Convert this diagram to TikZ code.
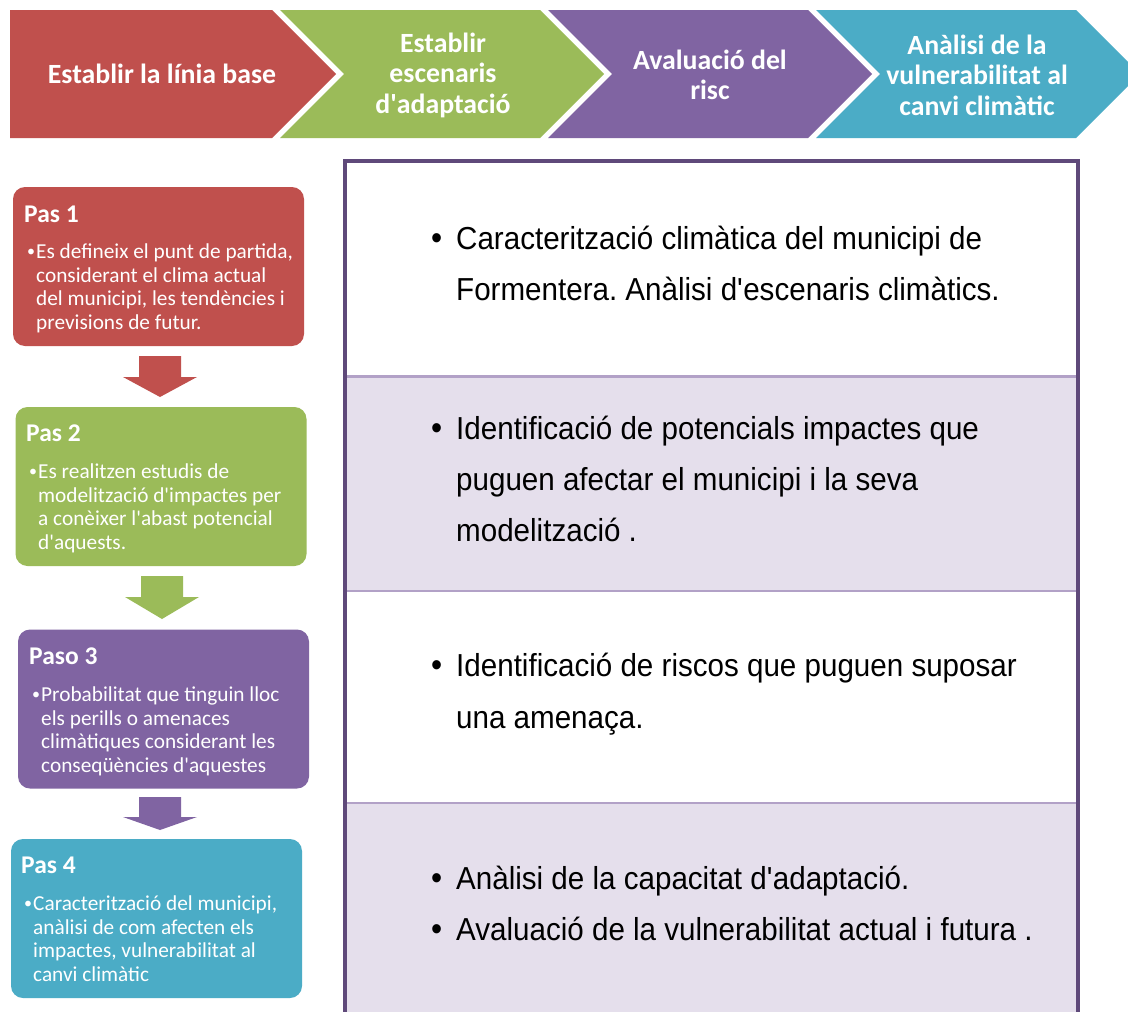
\documentclass[tikz,border=0pt]{standalone}
\usepackage{fontspec}
\setmainfont{Carlito}
\newfontfamily\tabfont[FakeStretch=0.93]{Liberation Sans}
\definecolor{cred}{HTML}{C0504D}
\definecolor{cgreen}{HTML}{9BBB59}
\definecolor{cpurple}{HTML}{8064A2}
\definecolor{cteal}{HTML}{4BACC6}
\definecolor{tborder}{HTML}{5F497A}
\definecolor{tdiv}{HTML}{B2A1C7}
\definecolor{tfill}{HTML}{E5DFEC}
\newcommand\blockarr[5]{\fill[#1] ({#2-21},#3) -- ({#2+21},#3) -- ({#2+21},#4) -- ({#2+37},#4) -- (#2,#5) -- ({#2-37},#4) -- ({#2-21},#4) -- cycle;}
\frenchspacing
\begin{document}
\begin{tikzpicture}[x=1pt,y=-1pt,
  boxstyle/.style={rounded corners=12pt, minimum width=291pt, minimum height=159pt, inner sep=0pt, draw=none},
  headtxt/.style={anchor=base west, inner sep=0pt, text=white, font=\bfseries\fontsize{25.5}{28}\selectfont},
  btxt/.style={anchor=base west, inner sep=0pt, text=white, font=\fontsize{21.3}{24}\selectfont},
  bdot/.style={anchor=base west, inner sep=0pt, text=white, font=\fontsize{16}{18}\selectfont},
  ctxt/.style={align=center, text=white, inner sep=0pt, font=\bfseries\fontsize{27.8}{30.5}\selectfont},
  ttxt/.style={anchor=base west, inner sep=0pt, font=\tabfont\fontsize{31.8}{34}\selectfont},
  tdot/.style={anchor=base west, inner sep=0pt, font=\tabfont\fontsize{34}{34}\selectfont},
]
\useasboundingbox (0,0) rectangle (1128,1012);
\clip (0,0) rectangle (1128,1012);
\fill[white] (0,0) rectangle (1128,1012);

% chevrons
\fill[cred] (10,10) -- (272,10) -- (336,74) -- (272,138) -- (10,138) -- cycle;
\fill[cgreen] (280,10) -- (540,10) -- (604,74) -- (540,138) -- (280,138) -- (344,74) -- cycle;
\fill[cpurple] (548,10) -- (808,10) -- (872,74) -- (808,138) -- (548,138) -- (612,74) -- cycle;
\fill[cteal] (816,10) -- (1076,10) -- (1140,74) -- (1076,138) -- (816,138) -- (880,74) -- cycle;
\node[ctxt] (c1) at (162,74) {Establir la línia base};
\node[ctxt] (c2) at (443,75) {Establir\\escenaris\\d\textquotesingle adaptació};
\node[ctxt] (c3) at (710,75) {Avaluació del\\risc};
\node[ctxt] (c4) at (977,75) {Anàlisi de la\\vulnerabilitat al\\canvi climàtic};

% left boxes
\node[boxstyle, fill=cred] (p1) at (158.5,266.5) {};
\node[boxstyle, fill=cgreen] (p2) at (161,486.5) {};
\node[boxstyle, fill=cpurple] (p3) at (163.5,709) {};
\node[boxstyle, fill=cteal] (p4) at (156.5,918.5) {};

\blockarr{cred}{160}{356}{377}{397}
\blockarr{cgreen}{162}{576}{597}{619}
\blockarr{cpurple}{160}{797}{817}{830}

\node[headtxt] (h1) at (24,222) {Pas 1};
\node[bdot] (b1) at (27,256) {•};
\node[btxt] (t11) at (36,258) {Es defineix el punt de partida,};
\node[btxt] (t12) at (36,282) {considerant el clima actual};
\node[btxt] (t13) at (36,305) {del municipi, les tendències i};
\node[btxt] (t14) at (36,329) {previsions de futur.};

\node[headtxt] (h2) at (26,441) {Pas 2};
\node[bdot] (b2) at (29,476) {•};
\node[btxt] (t21) at (38,478) {Es realitzen estudis de};
\node[btxt] (t22) at (38,502) {modelització d\textquotesingle impactes per};
\node[btxt] (t23) at (38,525) {a conèixer l\textquotesingle abast potencial};
\node[btxt] (t24) at (38,549) {d\textquotesingle aquests.};

\node[headtxt] (h3) at (29,664) {Paso 3};
\node[bdot] (b3) at (32,699) {•};
\node[btxt] (t31) at (41,701) {Probabilitat que tinguin lloc};
\node[btxt] (t32) at (41,725) {els perills o amenaces};
\node[btxt] (t33) at (41,748) {climàtiques considerant les};
\node[btxt] (t34) at (41,772) {conseqüències d\textquotesingle aquestes};

\node[headtxt] (h4) at (21,873) {Pas 4};
\node[bdot] (b4) at (24,908) {•};
\node[btxt] (t41) at (33,910) {Caracterització del municipi,};
\node[btxt] (t42) at (33,934) {anàlisi de com afecten els};
\node[btxt] (t43) at (33,957) {impactes, vulnerabilitat al};
\node[btxt] (t44) at (33,981) {canvi climàtic};

% table
\fill[tfill] (345,376) rectangle (1078,591);
\fill[tfill] (345,803) rectangle (1078,1030);
\draw[tdiv, line width=3pt] (345,376.5) -- (1078,376.5);
\draw[tdiv, line width=1.2pt] (345,591) -- (1078,591);
\draw[tdiv, line width=1.2pt] (345,803) -- (1078,803);
\draw[tborder, line width=4pt] (345,1040) -- (345,161) -- (1078,161) -- (1078,1040);

\node[tdot] (u1) at (431,249) {•};
\node[ttxt] (s11) at (456,249) {Caracterització climàtica del municipi de};
\node[ttxt] (s12) at (456,300) {Formentera. Anàlisi d\textquotesingle escenaris climàtics.};
\node[tdot] (u2) at (431,439) {•};
\node[ttxt] (s21) at (456,439) {Identificació de potencials impactes que};
\node[ttxt] (s22) at (456,490) {puguen afectar el municipi i la seva};
\node[ttxt] (s23) at (456,541) {modelització .};
\node[tdot] (u3) at (431,676) {•};
\node[ttxt] (s31) at (456,676) {Identificació de riscos que puguen suposar};
\node[ttxt] (s32) at (456,728) {una amenaça.};
\node[tdot] (u4) at (431,889) {•};
\node[ttxt] (s41) at (456,889) {Anàlisi de la capacitat d\textquotesingle adaptació.};
\node[tdot] (u5) at (431,940) {•};
\node[ttxt] (s42) at (456,940) {Avaluació de la vulnerabilitat actual i futura .};
\end{tikzpicture}
\end{document}
